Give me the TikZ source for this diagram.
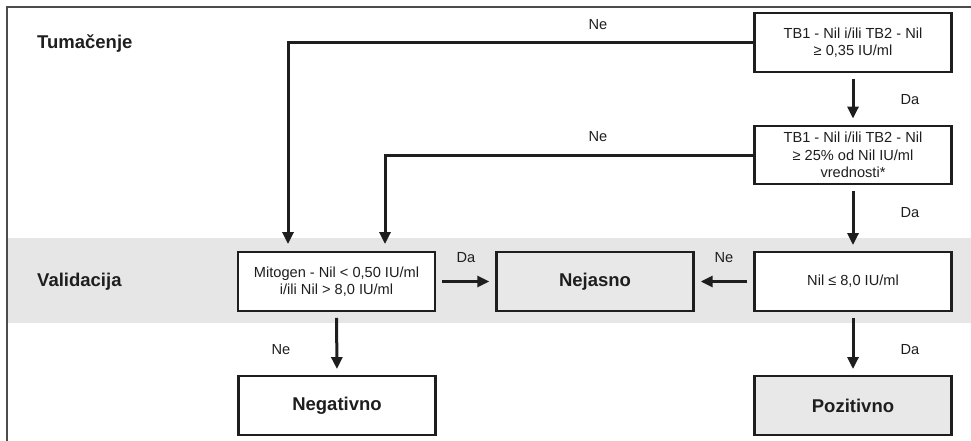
\documentclass[tikz,border=0pt]{standalone}
\usepackage{fontspec}
\setmainfont{Liberation Sans}
\usetikzlibrary{arrows.meta}
\definecolor{band}{HTML}{E6E6E6}
\definecolor{boxgray}{HTML}{E8E8E8}
\definecolor{ink}{HTML}{1E1E1E}
\newcommand{\fsnorm}{\fontsize{14.6}{17.5}\selectfont}
\newcommand{\fsbold}{\fontsize{18.5}{22}\selectfont\bfseries}
\tikzset{
  stepbox/.style={draw=ink, line width=2.4pt, minimum width=197pt, minimum height=58.5pt, align=center, font=\fsnorm, inner sep=0pt, fill=white, text=ink},
  resbox/.style={stepbox, font=\fsbold},
  arr/.style={draw=ink, line width=3pt, -{Triangle[width=11pt,length=12pt]}, shorten <=6pt, shorten >=6pt},
  lbl/.style={font=\fsnorm, text=ink, inner sep=0pt},
  head/.style={font=\fsbold, text=ink, inner sep=0pt}
}
\begin{document}
\begin{tikzpicture}[x=1pt,y=-1pt]
\useasboundingbox (0,0) rectangle (971,441);
\fill[band] (7,238) rectangle (971,323);
\draw[black!70, line width=1.3pt] (7,441) -- (7,7) -- (971,7);

\node[head, anchor=west] (tum) at (37,44) {Tumačenje};
\node[head, anchor=west] (val) at (37,282) {Validacija};

\node[stepbox] (b1) at (853,42.5) {TB1 - Nil i/ili TB2 - Nil\\≥ 0,35 IU/ml};
\node[stepbox] (b2) at (853,155) {TB1 - Nil i/ili TB2 - Nil\\≥ 25\% od Nil IU/ml\\vrednosti*};
\node[stepbox] (b3) at (853,281.5) {Nil ≤ 8,0 IU/ml};
\node[resbox, fill=boxgray] (nej) at (595,281.5) {Nejasno};
\node[stepbox] (mit) at (336.5,281.5) {Mitogen - Nil < 0,50 IU/ml\\i/ili Nil > 8,0 IU/ml};
\node[resbox] (neg) at (337,405.5) {Negativno};
\node[resbox, fill=boxgray] (poz) at (853,405.5) {Pozitivno};

\draw[arr, shorten <=0pt, shorten >=7pt] (b1.west) -| ([xshift=-48.5pt]mit.north);
\draw[arr, shorten <=0pt, shorten >=7pt] (b2.west) -| ([xshift=48.5pt]mit.north);
\draw[arr] (b1.south) -- (b2.north);
\draw[arr] (b2.south) -- (b3.north);
\draw[arr] (b3.west) -- (nej.east);
\draw[arr] (mit.east) -- (nej.west);
\draw[arr] (mit.south) -- (neg.north);
\draw[arr] (b3.south) -- (poz.north);

\node[lbl] (l1) at (598,25) {Ne};
\node[lbl] (l2) at (598,137) {Ne};
\node[lbl] (l3) at (910,100) {Da};
\node[lbl] (l4) at (910,213) {Da};
\node[lbl] (l5) at (466,258) {Da};
\node[lbl] (l6) at (724,258) {Ne};
\node[lbl] (l7) at (281,350) {Ne};
\node[lbl] (l8) at (910,350) {Da};
\end{tikzpicture}
\end{document}
